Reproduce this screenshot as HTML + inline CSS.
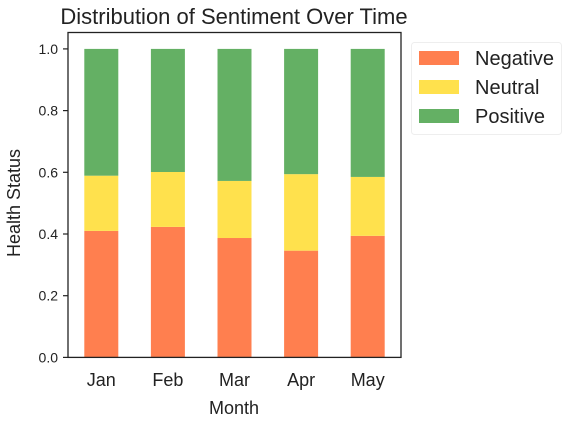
<!DOCTYPE html>
<html><head><meta charset="utf-8"><style>
body{margin:0;background:#fff;font-family:"Liberation Sans","DejaVu Sans",sans-serif;}
svg text{font-family:"Liberation Sans","DejaVu Sans",sans-serif;}
</style></head><body>
<svg id="chart" width="568" height="424">
<text x="234" y="24" text-anchor="middle" font-size="22" fill="#222">Distribution of Sentiment Over Time</text>
<g id="bars"></g>
<g id="axes"></g>
<text x="234" y="414" text-anchor="middle" font-size="18" fill="#222">Month</text>
<text transform="translate(20,203) rotate(-90)" text-anchor="middle" font-size="18" fill="#222">Health Status</text>
<g>
<rect x="411.5" y="42.5" width="150" height="92" rx="3" fill="#fff" stroke="#eee"/>
<g><rect x="419" y="51" width="40" height="14" fill="#ff7f4f"/><text x="475" y="65" font-size="20" fill="#222">Negative</text></g>
<g><rect x="419" y="80" width="40" height="14" fill="#ffe14d"/><text x="475" y="94" font-size="20" fill="#222">Neutral</text></g>
<g><rect x="419" y="109" width="40" height="14" fill="#64b064"/><text x="475" y="123" font-size="20" fill="#222">Positive</text></g>
</g>
</svg>
<script>
const categories=["Jan","Feb","Mar","Apr","May"];
const negative=[0.41,0.423,0.387,0.346,0.394];
const neutral=[0.179,0.178,0.185,0.248,0.191];
const positive=[0.411,0.399,0.428,0.406,0.415];
const yTicks=[0,0.2,0.4,0.6,0.8,1.0];
const yTickLabels=["0.0","0.2","0.4","0.6","0.8","1.0"];
const NS="http://www.w3.org/2000/svg";
const L=68,R=401,T=48.9,B=357.4;
const step=(R-L)/categories.length;
function x(i){return L+step*(i+0.5);}
function y(v){return B-(B-T)*v;}
function mk(tag,attrs,parent){const e=document.createElementNS(NS,tag);for(const k in attrs)e.setAttribute(k,attrs[k]);parent.appendChild(e);return e;}
const bars=document.getElementById('bars'),axes=document.getElementById('axes');
const series=[["negative",negative,"#ff7f4f"],["neutral",neutral,"#ffe14d"],["positive",positive,"#64b064"]];
const bw=34;
categories.forEach((c,i)=>{
  let base=0;
  series.forEach(([n,vals,col])=>{
    const r=mk('rect',{x:x(i)-bw/2,y:y(base+vals[i]),width:bw,height:y(base)-y(base+vals[i]),fill:col},bars);
    
    
    base+=vals[i];
  });
  const t=mk('text',{x:x(i),y:386,'text-anchor':'middle','font-size':18,fill:'#222'},axes);
  t.textContent=c;
  
  
});
yTicks.forEach((v,k)=>{
  mk('line',{x1:L-5,x2:L,y1:y(v),y2:y(v),stroke:'#222','stroke-width':1.2},axes);
  const t=mk('text',{x:L-10,y:y(v)+5,'text-anchor':'end','font-size':14,fill:'#222'},axes);
  t.textContent=yTickLabels[k];
  
  
});
const f=mk('rect',{x:L,y:32.5,width:R-L,height:B-32.5,fill:'none',stroke:'#222','stroke-width':1.3},axes);


</script>
</body></html>
